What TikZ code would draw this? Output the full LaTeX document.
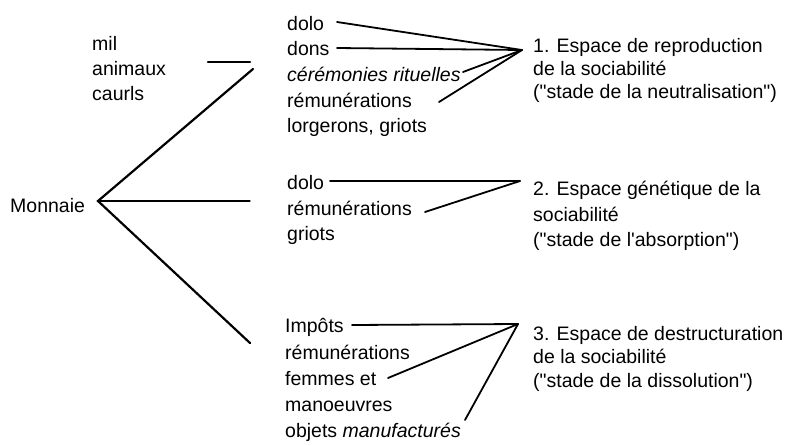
\documentclass[tikz,border=0pt]{standalone}
\usepackage{fontspec}
\setmainfont{Liberation Sans}[Ligatures=TeXOff]
\begin{document}
\begin{tikzpicture}[x=1pt,y=-1pt,
  lbl/.style={anchor=base west,inner sep=0pt,font=\fontsize{19.5}{24}\selectfont},
  link/.style={line width=1.8pt,line cap=round},
  thin link/.style={line width=1.3pt,line cap=round}]
\useasboundingbox (0,0) rectangle (796,445);

% root
\node[lbl] (monnaie) at (10,212) {Monnaie};
\coordinate (root) at (98,201);

% goods listed at the top left
\node[lbl] (mil) at (92,50) {mil};
\node[lbl] (animaux) at (92,75) {animaux};
\node[lbl] (caurls) at (92,100) {caurls};
\coordinate (barL) at (208,62);
\coordinate (barR) at (250,62);

% branch ends
\coordinate (b1) at (253,69);
\coordinate (b2) at (250,201);
\coordinate (b3) at (250,343);

% first space
\node[lbl] (g1a) at (287,30) {dolo};
\node[lbl] (g1b) at (287,55) {dons};
\node[lbl] (g1c) at (287,81) {\itshape cérémonies rituelles};
\node[lbl] (g1d) at (287,107) {rémunérations};
\node[lbl] (g1e) at (287,132) {lorgerons, griots};
\coordinate (p1) at (522,50);
\coordinate (s1a) at (337,22);
\coordinate (s1b) at (337,48);
\coordinate (s1c) at (463,72);
\coordinate (s1d) at (439,102);
\node[lbl] (t1a) at (533,52) {1. Espace de reproduction};
\node[lbl] (t1b) at (533,75) {de la sociabilité};
\node[lbl] (t1c) at (533,98) {("stade de la neutralisation")};

% second space
\node[lbl] (g2a) at (287,189) {dolo};
\node[lbl] (g2b) at (287,215) {rémunérations};
\node[lbl] (g2c) at (287,240) {griots};
\coordinate (p2) at (520,181);
\coordinate (s2a) at (330,181);
\coordinate (s2b) at (425,212);
\node[lbl] (t2a) at (533,195) {2. Espace génétique de la};
\node[lbl] (t2b) at (533,221) {sociabilité};
\node[lbl] (t2c) at (533,246) {("stade de l'absorption")};

% third space
\node[lbl] (g3a) at (285,332) {Impôts};
\node[lbl] (g3b) at (285,359) {rémunérations};
\node[lbl] (g3c) at (285,385) {femmes et};
\node[lbl] (g3d) at (285,411) {manoeuvres};
\node[lbl] (g3e) at (285,437) {objets \itshape manufacturés};
\coordinate (p3) at (518,324);
\coordinate (s3a) at (352,325);
\coordinate (s3b) at (388,378);
\coordinate (s3c) at (465,420);
\node[lbl] (t3a) at (533,340) {3. Espace de destructuration};
\node[lbl] (t3b) at (533,363) {de la sociabilité};
\node[lbl] (t3c) at (533,387) {("stade de la dissolution")};

% connectors
\draw[link,line width=2.6pt] (barL) -- (barR);
\draw[link,line width=2.2pt] (b1) -- (root) -- (b3);
\draw[thin link] (root) -- (b2);

\draw[link] (s1a) -- (p1);
\draw[link] (s1b) -- (p1);
\draw[link] (s1c) -- (p1);
\draw[link] (s1d) -- (p1);

\draw[link] (s2a) -- (p2);
\draw[link] (s2b) -- (p2);

\draw[link] (s3a) -- (p3);
\draw[link] (s3b) -- (p3);
\draw[link] (s3c) -- (p3);
\end{tikzpicture}
\end{document}
